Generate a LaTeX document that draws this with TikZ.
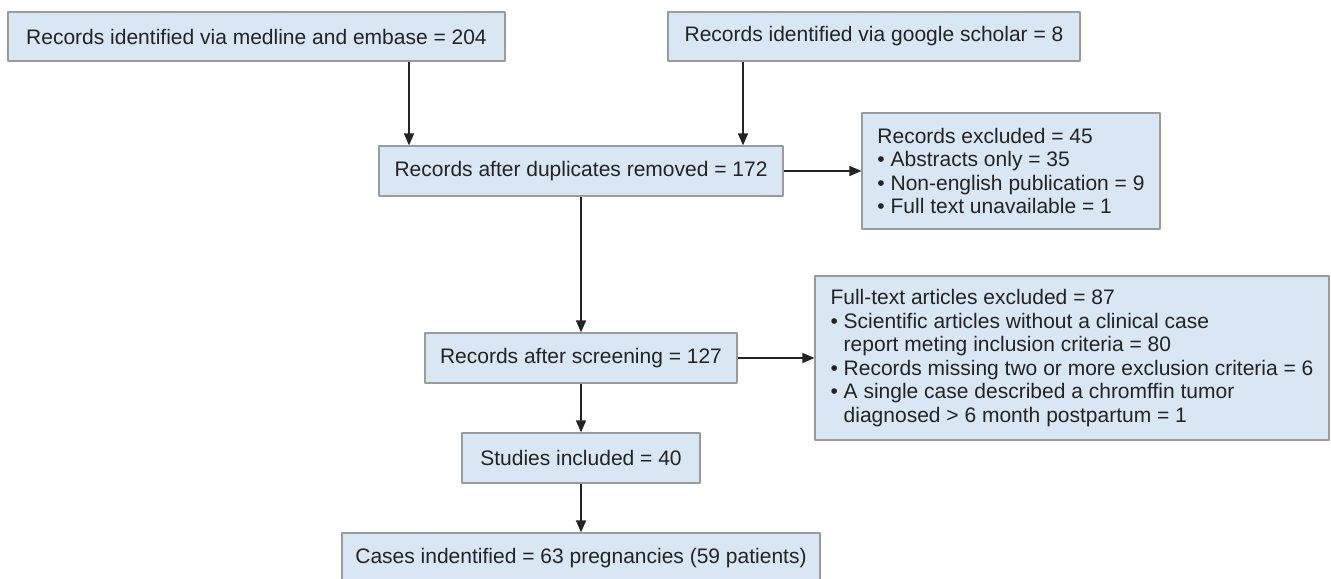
\documentclass[tikz,border=0pt]{standalone}
\usepackage{fontspec}
\setmainfont{Liberation Sans}
\usetikzlibrary{arrows.meta}
\definecolor{boxfill}{RGB}{217,231,245}
\definecolor{boxline}{RGB}{155,155,155}
\definecolor{inkgray}{RGB}{35,35,35}
\begin{document}
\begin{tikzpicture}[x=1bp,y=-1bp,line join=round,font=\fontsize{21bp}{23.6bp}\selectfont,
	box/.style={draw=boxline,fill=boxfill,line width=1.2bp,inner sep=0pt,text=inkgray,align=left},
	arr/.style={draw=inkgray,line width=1.4bp,-{Triangle[length=12bp,width=10bp]}}]
	\useasboundingbox (0,0) rectangle (1331,579);
	\clip (0,0) rectangle (1331,579);
	% one-line boxes: name/left/top/right/bottom/text
	\foreach \nm/\xl/\yt/\xr/\yb/\txt in {
		medline/8/12/505/61/{Records identified via medline and embase = 204},
		scholar/668/12/1080/61/{Records identified via google scholar = 8},
		dupl/379/146/783/196/{Records after duplicates removed = 172},
		screen/425/333/737/383/{Records after screening = 127},
		studies/462/433/700/483/{Studies included = 40},
		cases/342/533/820/583/{Cases indentified = 63 pregnancies (59 patients)}}
		\node[box,minimum width={(\xr-\xl)*1bp},minimum height={(\yb-\yt)*1bp}] (\nm) at ({(\xl+\xr)/2},{(\yt+\yb)/2}) {\txt};
	% exclusion boxes
	\node[box,minimum width=298bp,minimum height=116bp] (excl) at (1011,171)
		{Records excluded = 45\\• Abstracts only = 35\\• Non-english publication = 9\\• Full text unavailable = 1};
	\node[box,minimum width=514bp,minimum height=164bp] (full) at (1072,358)
		{Full-text articles excluded = 87\\• Scientific articles without a clinical case\\\phantom{• }report meting inclusion criteria = 80\\• Records missing two or more exclusion criteria = 6\\• A single case described a chromffin tumor\\\phantom{• }diagnosed > 6 month postpartum = 1};
	\coordinate (ml) at (409,0); \coordinate (gs) at (743,0);
	\draw[arr] (ml |- medline.south) -- (ml |- dupl.north);
	\draw[arr] (gs |- scholar.south) -- (gs |- dupl.north);
	\draw[arr] (dupl) -- (excl);
	\draw[arr] (dupl) -- (screen);
	\draw[arr] (screen) -- (full);
	\draw[arr] (screen) -- (studies);
	\draw[arr] (studies) -- (cases);
\end{tikzpicture}
\end{document}
